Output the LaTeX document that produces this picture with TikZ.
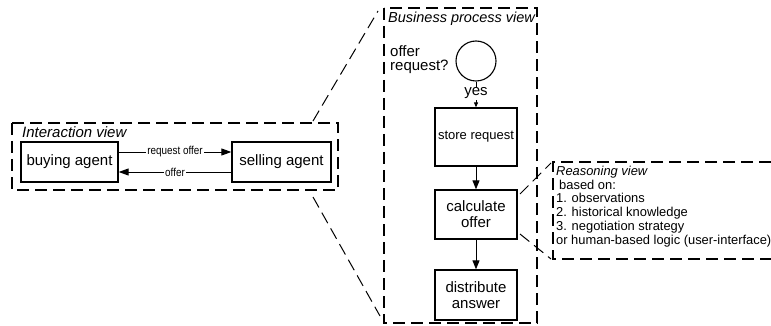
\documentclass[tikz,border=0pt]{standalone}
\usepackage{fontspec}
\setmainfont{Liberation Sans}
\usetikzlibrary{arrows.meta}
\tikzset{
  box/.style={draw, line width=1.3pt, inner sep=0pt, font=\fontsize{15}{16}\selectfont, align=center},
  dbox/.style={draw, line width=1.3pt, dash pattern=on 12pt off 6pt},
  zline/.style={line width=1pt, dash pattern=on 12pt off 6pt},
  flow/.style={line width=0.9pt, -{Triangle[length=9pt,width=7pt]}},
  iarr/.style={line width=0.9pt, -{Triangle[length=10pt,width=7pt]}},
  small/.style={font=\fontsize{11.5}{12}\selectfont, fill=white, inner sep=1.5pt},
  ttl/.style={font=\fontsize{15}{16}\selectfont\itshape, inner sep=0pt}
}
\begin{document}
\begin{tikzpicture}[x=1pt,y=-1pt]
\useasboundingbox (0,0) rectangle (771,326);
% interaction view
\draw[dbox] (12,123) rectangle (338,190);
\node[ttl, anchor=west] (it) at (22,132) {Interaction view};
\node[box, minimum width=97pt, minimum height=40pt] (buy) at (69.5,162) {buying agent};
\node[box, minimum width=99pt, minimum height=40pt] (sell) at (281.5,162) {selling agent};
\draw[iarr] (buy.east |- 0,152) coordinate (b1) -- node[small] (lreq) {\scalebox{0.86}[1]{request offer}} (sell.west |- 0,152);
\draw[iarr] (sell.west |- 0,172) coordinate (s1) -- node[small] (loff) {\scalebox{0.86}[1]{offer}} (buy.east |- 0,172);
% zoom lines
\coordinate (z1) at (313,121);
\coordinate (z2) at (378,11);
\coordinate (z3) at (313,197);
\coordinate (z4) at (380,316);
\draw[zline] (z1) -- (z2);
\draw[zline] (z3) -- (z4);
% business process view
\draw[dbox] (384,8) rectangle (537,323);
\node[ttl, anchor=west, font=\fontsize{14.5}{16}\selectfont\itshape] (bt) at (388,19) {Business process view};
\node[draw, circle, line width=1.1pt, minimum size=40pt, inner sep=0pt] (c) at (476,61) {};
\node[anchor=west, align=left, inner sep=0pt, font=\fontsize{15}{14}\selectfont] (q) at (390,60) {offer\\request?};
\node[box, minimum width=82pt, minimum height=58pt, font=\fontsize{13}{14}\selectfont] (store) at (476,137) {store request};
\node[box, minimum width=82pt, minimum height=49pt] (calc) at (476,214.5) {calculate\\offer};
\node[box, minimum width=82pt, minimum height=50pt] (dist) at (476,295) {distribute\\answer};
\draw[line width=0.9pt, -{Triangle[length=5pt,width=4pt]}] (c) -- node[fill=white, inner sep=1pt, font=\fontsize{15}{16}\selectfont, pos=0.45] (yes) {yes} (store);
\draw[flow] (store) -- (calc);
\draw[flow] (calc) -- (dist);
% reasoning view
\coordinate (r1) at (520,194);
\coordinate (r2) at (551,163);
\coordinate (r3) at (520,234);
\coordinate (r4) at (551,259);
\draw[zline] (r1) -- (r2);
\draw[zline] (r3) -- (r4);
\draw[dbox] (771,162) -- (553,162) -- (553,259) -- (771,259);
\node[anchor=north west, align=left, inner sep=0pt, font=\fontsize{12.9}{13.7}\selectfont] (rt) at (556,166) {\textit{Reasoning view}\\\hspace{3pt}based on:\\1. observations\\2. historical knowledge\\3. negotiation strategy\\or human-based logic (user-interface)};
\end{tikzpicture}
\end{document}
